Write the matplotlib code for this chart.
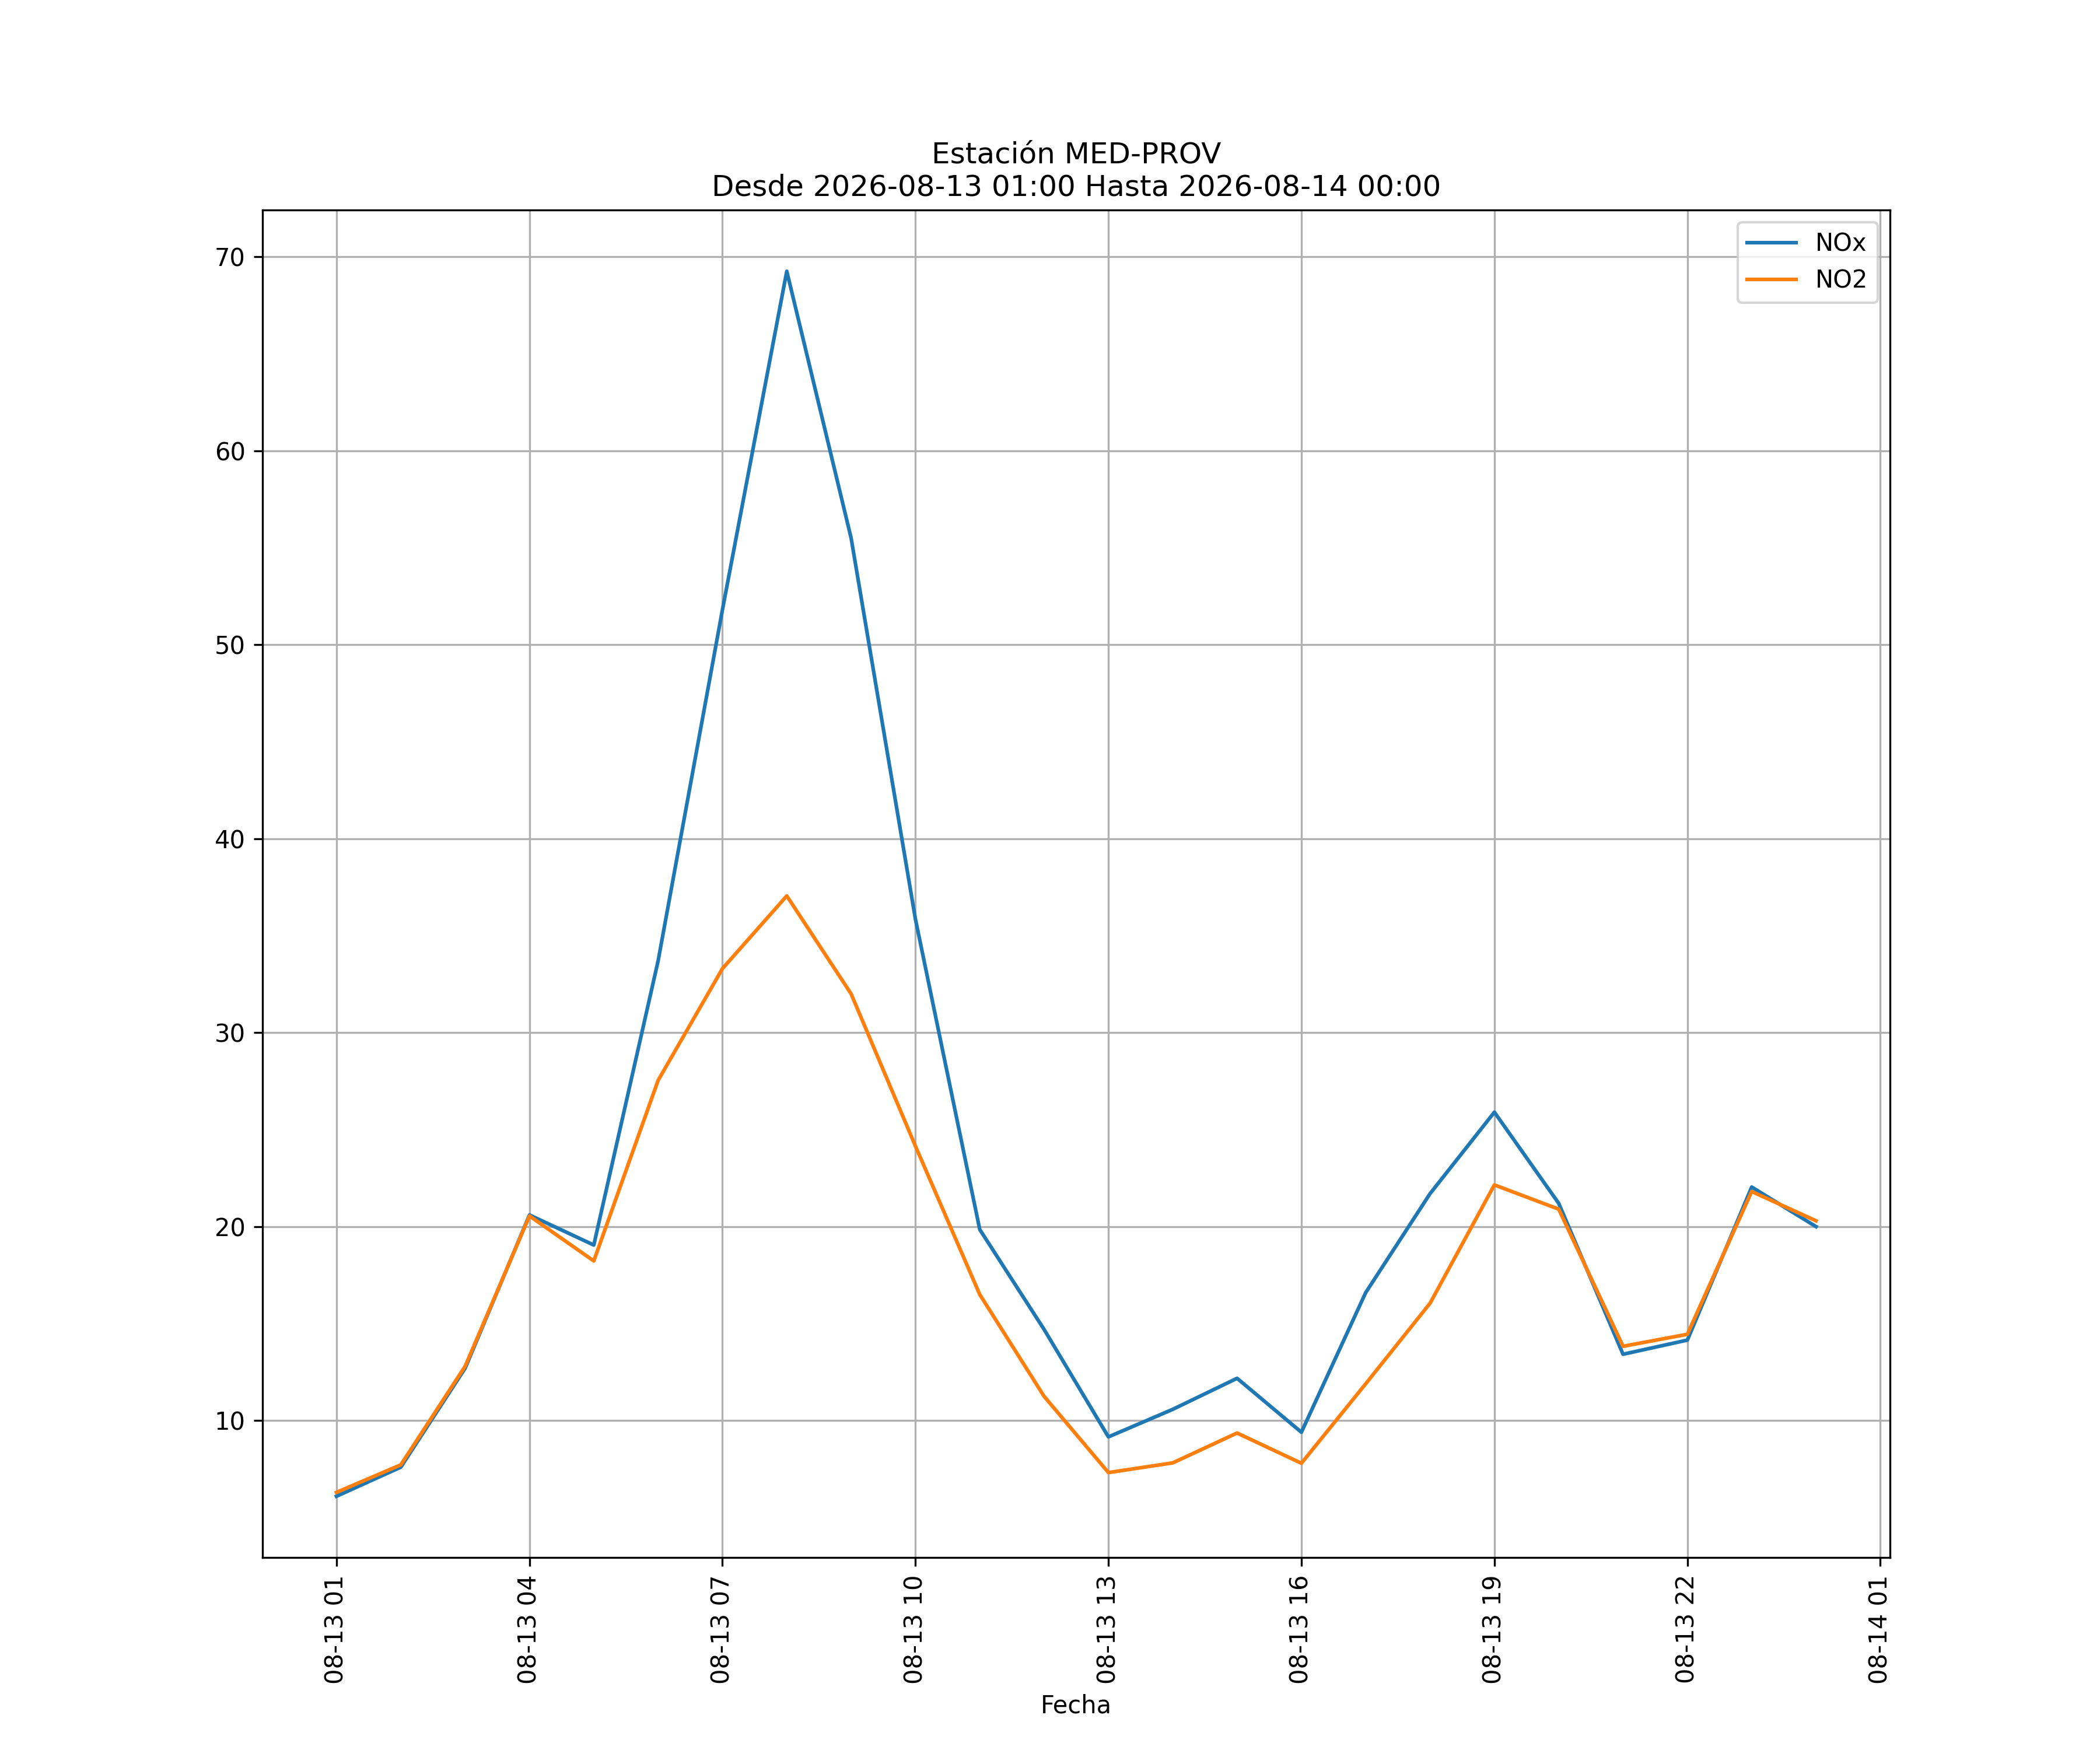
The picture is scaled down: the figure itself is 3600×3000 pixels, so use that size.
import matplotlib
matplotlib.use("Agg")
import matplotlib.pyplot as plt
import matplotlib.dates as mdates
import pandas as pd

times = pd.date_range("2026-08-13 01:00", "2026-08-14 00:00", freq="h")
nox = [6.1, 7.6, 12.7, 20.6, 19.05, 33.7, 51.8, 69.25, 55.5, 35.85, 19.85, 14.7,
       9.16, 10.58, 12.18, 9.4, 16.6, 21.7, 25.9, 21.2, 13.42, 14.15, 22.04, 20.0]
no2 = [6.3, 7.72, 12.8, 20.55, 18.23, 27.54, 33.3, 37.05, 32.0, 24.15, 16.5, 11.25,
       7.32, 7.82, 9.36, 7.8, 11.9, 16.05, 22.15, 20.9, 13.83, 14.45, 21.81, 20.3]
title = "Estación MED-PROV\nDesde 2026-08-13 01:00 Hasta 2026-08-14 00:00"

fig, ax = plt.subplots(figsize=(12, 10), dpi=300)
ax.plot(times, nox, label="NOx")
ax.plot(times, no2, label="NO2")
ax.set_title(title)
ax.set_xlabel("Fecha")
ax.xaxis.set_major_locator(mdates.HourLocator(byhour=[1, 4, 7, 10, 13, 16, 19, 22]))
ax.xaxis.set_major_formatter(mdates.DateFormatter("%m-%d %H"))
plt.setp(ax.get_xticklabels(), rotation=90)
ax.grid(True)
ax.legend(loc="upper right")
fig.savefig("out.png")
